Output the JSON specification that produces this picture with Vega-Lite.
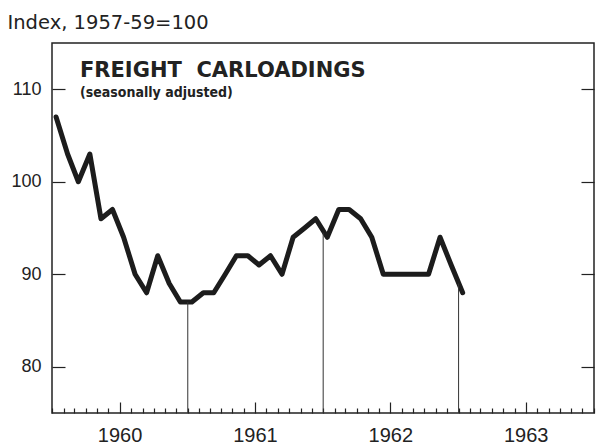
{
  "$schema": "https://vega.github.io/schema/vega-lite/v6.json",
  "width": 542,
  "height": 370,
  "autosize": {"type": "none"},
  "padding": {"left": 52, "top": 43, "right": 3, "bottom": 34},
  "background": "white",
  "config": {
    "view": {"stroke": "#222", "strokeWidth": 1.5},
    "axis": {"grid": false, "domain": false, "tickColor": "#222", "labelColor": "#222", "titleColor": "#222", "tickWidth": 1.2}
  },
  "title": {
    "text": "FREIGHT\u00a0\u00a0CARLOADINGS",
    "subtitle": "(seasonally adjusted)",
    "anchor": "start",
    "frame": "group",
    "offset": -88,
    "dx": 28,
    "font": "DejaVu Sans",
    "fontSize": 21,
    "fontWeight": "bold",
    "color": "#222",
    "subtitleFont": "DejaVu Sans Condensed",
    "subtitleFontSize": 14,
    "subtitleFontWeight": "bold",
    "subtitleColor": "#222",
    "subtitlePadding": 5
  },
  "layer": [
    {
      "data": {"values": [
        {"d": "1960-01-12", "v": 107}, {"d": "1960-02-12", "v": 103}, {"d": "1960-03-12", "v": 100},
        {"d": "1960-04-12", "v": 103}, {"d": "1960-05-12", "v": 96}, {"d": "1960-06-12", "v": 97},
        {"d": "1960-07-12", "v": 94}, {"d": "1960-08-12", "v": 90}, {"d": "1960-09-12", "v": 88},
        {"d": "1960-10-12", "v": 92}, {"d": "1960-11-12", "v": 89}, {"d": "1960-12-12", "v": 87},
        {"d": "1961-01-12", "v": 87}, {"d": "1961-02-12", "v": 88}, {"d": "1961-03-12", "v": 88},
        {"d": "1961-04-12", "v": 90}, {"d": "1961-05-12", "v": 92}, {"d": "1961-06-12", "v": 92},
        {"d": "1961-07-12", "v": 91}, {"d": "1961-08-12", "v": 92}, {"d": "1961-09-12", "v": 90},
        {"d": "1961-10-12", "v": 94}, {"d": "1961-11-12", "v": 95}, {"d": "1961-12-12", "v": 96},
        {"d": "1962-01-12", "v": 94}, {"d": "1962-02-12", "v": 97}, {"d": "1962-03-12", "v": 97},
        {"d": "1962-04-12", "v": 96}, {"d": "1962-05-12", "v": 94}, {"d": "1962-06-12", "v": 90},
        {"d": "1962-07-12", "v": 90}, {"d": "1962-08-12", "v": 90}, {"d": "1962-09-12", "v": 90},
        {"d": "1962-10-12", "v": 90}, {"d": "1962-11-12", "v": 94}, {"d": "1962-12-12", "v": 91},
        {"d": "1963-01-12", "v": 88}
      ]},
      "mark": {"type": "line", "strokeWidth": 5, "color": "#1c1c1c", "strokeCap": "round", "strokeJoin": "round"},
      "encoding": {
        "x": {
          "field": "d", "type": "temporal",
          "scale": {"type": "utc", "domain": [{"year": 1960, "month": 1, "date": 1, "utc": true}, {"year": 1964, "month": 1, "date": 1, "utc": true}]},
          "axis": {
            "orient": "bottom",
            "title": null,
            "tickCount": {"interval": "month", "step": 1},
            "tickSize": {"condition": {"test": "utcmonth(datum.value) == 6", "value": -11}, "value": -5},
            "labelExpr": "utcmonth(datum.value) == 6 ? utcFormat(datum.value, '%Y') : ''",
            "labelPadding": 23,
            "labelOverlap": false,
            "labelBound": false,
            "labelFlush": false,
            "labelFont": "Liberation Sans",
            "labelFontSize": 20
          }
        },
        "y": {
          "field": "v", "type": "quantitative",
          "scale": {"domain": [75, 115], "nice": false, "zero": false},
          "axis": {
            "orient": "left",
            "values": [80, 90, 100, 110],
            "tickSize": -13,
            "labelPadding": 24,
            "labelFont": "Liberation Sans",
            "labelFontSize": 18,
            "title": "Index, 1957-59=100",
            "titleAngle": 0,
            "titleAlign": "left",
            "titleBaseline": "alphabetic",
            "titleX": -45,
            "titleY": -15,
            "titleFont": "DejaVu Sans",
            "titleFontSize": 19.5,
            "titleFontWeight": "normal"
          }
        }
      }
    },
    {
      "data": {"values": [
        {"d": "1961-01-01", "v": 87},
        {"d": "1962-01-01", "v": 94.5},
        {"d": "1963-01-01", "v": 89}
      ]},
      "mark": {"type": "rule", "color": "#333", "strokeWidth": 1},
      "encoding": {
        "x": {"field": "d", "type": "temporal", "axis": null},
        "y": {
          "field": "v", "type": "quantitative",
          "axis": {"orient": "right", "values": [80, 90, 100, 110], "tickSize": -13, "labels": false, "title": null}
        },
        "y2": {"datum": 75}
      }
    }
  ],
  "resolve": {"axis": {"x": "independent", "y": "independent"}}
}
